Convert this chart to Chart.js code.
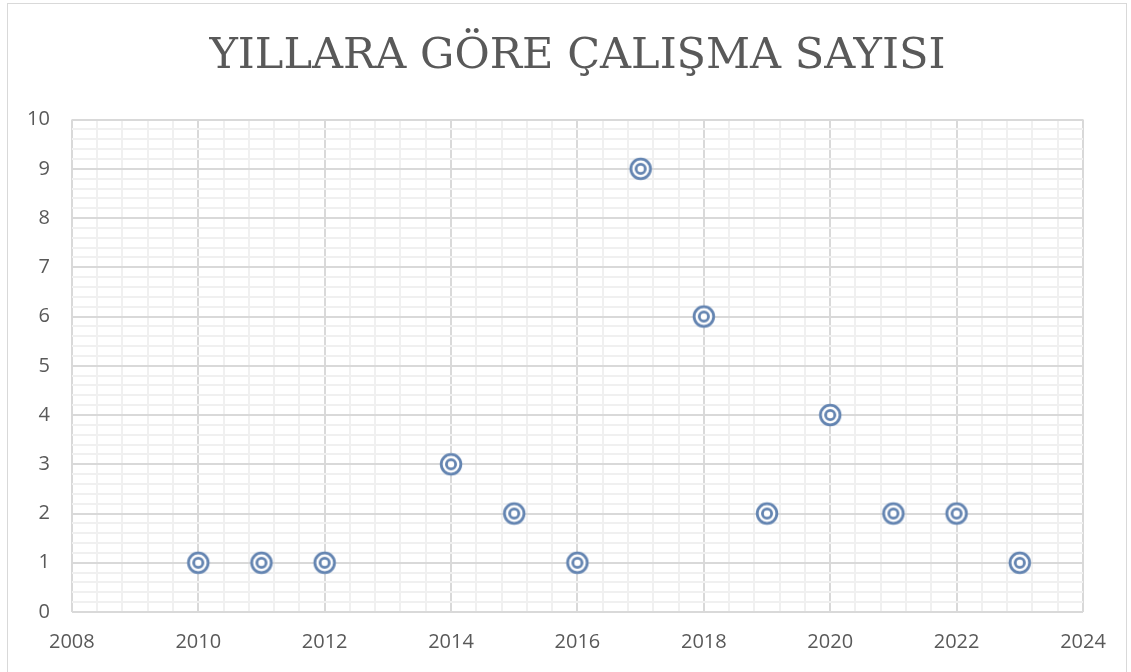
<!DOCTYPE html>
<html>
<head>
<meta charset="utf-8">
<script src="https://cdn.jsdelivr.net/npm/chart.js@4.4.1/dist/chart.umd.min.js"></script>
<style>
  html, body { margin: 0; padding: 0; background: #fff; }
  #frame {
    position: absolute; left: 7px; top: 3px; width: 1120px; height: 680px;
    border: 1px solid #d9d9d9; box-sizing: border-box;
  }
  #wrap { position: absolute; left: 0; top: 0; width: 1131px; height: 672px; }
</style>
</head>
<body>
<div id="frame"></div>
<div id="wrap"><canvas id="chart"></canvas></div>
<script>
// Data
const years = [2010, 2011, 2012, 2014, 2015, 2016, 2017, 2018, 2019, 2020, 2021, 2022, 2023];
const counts = [1, 1, 1, 3, 2, 1, 9, 6, 2, 4, 2, 2, 1];
const xRange = [2008, 2024];
const yRange = [0, 10];
const titleText = "YILLARA GÖRE ÇALIŞMA SAYISI";

const markerColor = "#6384b1";
const textColor = "#595959";

// Concentric-circle marker
function makeMarker() {
  const c = document.createElement("canvas");
  c.width = 26;
  c.height = 26;
  const g = c.getContext("2d");
  g.strokeStyle = markerColor;
  g.lineWidth = 2.8;
  g.fillStyle = "#fff";
  g.beginPath();
  g.arc(13, 13, 9.8, 0, Math.PI * 2);
  g.fill();
  g.stroke();
  g.beginPath();
  g.arc(13, 13, 4.6, 0, Math.PI * 2);
  g.stroke();
  return c;
}

const isMultiple = (v, step) => Math.abs(v - Math.round(v / step) * step) < 1e-6;

document.addEventListener("DOMContentLoaded", () => {
  const ctx = document.getElementById("chart");
  const points = years.map((y, i) => ({ x: y, y: counts[i] }));

  new Chart(ctx, {
    type: "scatter",
    data: {
      datasets: [{
        data: points,
        pointStyle: makeMarker(),
        pointRadius: 11,
        pointHoverRadius: 11,
      }],
    },
    options: {
      responsive: true,
      maintainAspectRatio: false,
      animation: false,
      layout: { padding: { left: 5, right: 48, top: 0, bottom: 0 } },
      plugins: {
        legend: { display: false },
        tooltip: { enabled: false },
        title: {
          display: true,
          fullSize: false,
          text: titleText,
          color: textColor,
          font: { family: "'DejaVu Serif', serif", size: 43, weight: "normal" },
          padding: { top: 31, bottom: 37 },
        },
      },
      scales: {
        x: {
          type: "linear",
          min: xRange[0],
          max: xRange[1],
          border: { display: false },
          grid: {
            color: (c) => (isMultiple(c.tick.value, 2) ? "#d9d9d9" : "#f0f0f0"),
            lineWidth: 2,
            drawTicks: false,
          },
          ticks: {
            stepSize: 0.4,
            autoSkip: false,
            maxRotation: 0,
            padding: 18,
            color: textColor,
            font: { family: "'Open Sans', sans-serif", size: 20 },
            callback: (v) => (isMultiple(v, 2) ? String(Math.round(v)) : ""),
          },
        },
        y: {
          min: yRange[0],
          max: yRange[1],
          border: { display: false },
          grid: {
            color: (c) => (isMultiple(c.tick.value, 1) ? "#d9d9d9" : "#f0f0f0"),
            lineWidth: 2,
            drawTicks: false,
          },
          ticks: {
            stepSize: 0.2,
            autoSkip: false,
            padding: 22,
            color: textColor,
            font: { family: "'Open Sans', sans-serif", size: 20 },
            callback: (v) => (isMultiple(v, 1) ? String(Math.round(v)) : ""),
          },
        },
      },
    },
  });
});
</script>
</body>
</html>
